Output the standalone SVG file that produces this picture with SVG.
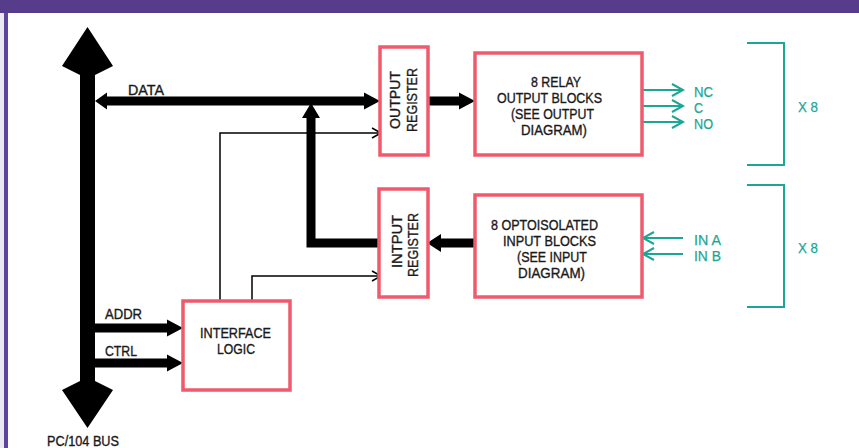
<svg xmlns="http://www.w3.org/2000/svg" width="859" height="448" viewBox="0 0 859 448">
<style>
.t{font-family:"Liberation Sans",Arial,sans-serif;font-size:14px;fill:#1a1a1a;stroke:#1a1a1a;stroke-width:0.35}
.g{font-family:"Liberation Sans",Arial,sans-serif;font-size:15px;fill:#1ca696;stroke:#1ca696;stroke-width:0.25}
.box{fill:#fff;stroke:#ef5a6d;stroke-width:3.5}
.thick{stroke:#000;stroke-width:9;fill:none}
.thin{stroke:#000;stroke-width:1.5;fill:none}
.gl{stroke:#1ca696;stroke-width:2;fill:none}
</style>
<rect x="0" y="0" width="859" height="448" fill="#fff"/>
<rect x="0" y="0" width="859" height="13" fill="#573c8c"/>
<rect x="0" y="13" width="4" height="435" fill="#ece8f2"/>
<rect x="4" y="13" width="4" height="435" fill="#5d44a0"/>

<g id="connectors">
  <polygon points="87.5,27 113,66 95,75 95,381 113,390 87.5,428 62,390 80,381 80,75 62,66" fill="#000"/>
  <line class="thick" x1="104" y1="101" x2="367" y2="101"/>
  <polygon points="95,101 107,92.5 107,109.5" fill="#000"/>
  <polygon points="380,101 364,92.5 364,109.5" fill="#000"/>
  <polyline class="thick" points="380,243 311,243 311,114"/>
  <polygon points="311,103 302,118 320,118" fill="#000"/>
  <line class="thick" x1="428" y1="101" x2="462" y2="101"/>
  <polygon points="475,101 459,92.5 459,109.5" fill="#000"/>
  <line class="thick" x1="475" y1="243" x2="438" y2="243"/>
  <polygon points="427,243 441,234 441,252" fill="#000"/>
  <line class="thick" x1="95" y1="328" x2="169" y2="328"/>
  <polygon points="183,328 167,319.5 167,336.5" fill="#000"/>
  <line class="thick" x1="95" y1="363" x2="169" y2="363"/>
  <polygon points="183,363 167,354.5 167,371.5" fill="#000"/>
  <polyline class="thin" points="220,301 220,133 380,133"/>
  <polyline class="thin" points="372,128 381,133 372,138"/>
  <polyline class="thin" points="252,301 252,276 380,276"/>
  <polyline class="thin" points="372,271 381,276 372,281"/>
  <line class="gl" x1="642" y1="90" x2="683" y2="90"/>
  <polyline class="gl" points="672,84 683,90 672,96"/>
  <line class="gl" x1="642" y1="106" x2="683" y2="106"/>
  <polyline class="gl" points="672,100 683,106 672,112"/>
  <line class="gl" x1="642" y1="122" x2="683" y2="122"/>
  <polyline class="gl" points="672,116 683,122 672,128"/>
  <line class="gl" x1="683" y1="238" x2="643" y2="238"/>
  <polyline class="gl" points="654,232 643,238 654,244"/>
  <line class="gl" x1="683" y1="254" x2="643" y2="254"/>
  <polyline class="gl" points="654,248 643,254 654,260"/>
  <polyline class="gl" points="747,43 784,43 784,165 747,165"/>
  <polyline class="gl" points="747,185 784,185 784,307 747,307"/>
</g>

<g id="labels">
  <text class="t" x="128" y="95" textLength="36" lengthAdjust="spacingAndGlyphs">DATA</text>
  <text class="t" x="105" y="319" textLength="37" lengthAdjust="spacingAndGlyphs">ADDR</text>
  <text class="t" x="105" y="356" textLength="32" lengthAdjust="spacingAndGlyphs">CTRL</text>
  <text class="t" x="47" y="446" textLength="72" lengthAdjust="spacingAndGlyphs">PC/104 BUS</text>
  <text class="g" x="694" y="97" textLength="19" lengthAdjust="spacingAndGlyphs">NC</text>
  <text class="g" x="694" y="113" textLength="9" lengthAdjust="spacingAndGlyphs">C</text>
  <text class="g" x="694" y="129" textLength="19" lengthAdjust="spacingAndGlyphs">NO</text>
  <text class="g" x="694" y="245" textLength="27" lengthAdjust="spacingAndGlyphs">IN A</text>
  <text class="g" x="694" y="261" textLength="27" lengthAdjust="spacingAndGlyphs">IN B</text>
  <text class="g" x="798" y="112" textLength="20" lengthAdjust="spacingAndGlyphs">X 8</text>
  <text class="g" x="798" y="253" textLength="20" lengthAdjust="spacingAndGlyphs">X 8</text>
</g>

<g id="output-register">
  <rect class="box" x="380" y="47" width="48" height="108"/>
  <text class="t" transform="translate(400,129) rotate(-90)" font-size="15.5" textLength="58" lengthAdjust="spacingAndGlyphs">OUTPUT</text>
  <text class="t" transform="translate(417,132) rotate(-90)" font-size="15.5" textLength="64" lengthAdjust="spacingAndGlyphs">REGISTER</text>
</g>

<g id="input-register">
  <rect class="box" x="379" y="189" width="49" height="108"/>
  <text class="t" transform="translate(402,268) rotate(-90)" font-size="15.5" textLength="53" lengthAdjust="spacingAndGlyphs">INTPUT</text>
  <text class="t" transform="translate(418,277) rotate(-90)" font-size="15.5" textLength="64" lengthAdjust="spacingAndGlyphs">REGISTER</text>
</g>

<g id="relay-blocks">
  <rect class="box" x="475" y="53" width="167" height="102"/>
  <text class="t" x="531" y="87" textLength="50" lengthAdjust="spacingAndGlyphs">8 RELAY</text>
  <text class="t" x="497" y="103" textLength="105" lengthAdjust="spacingAndGlyphs">OUTPUT BLOCKS</text>
  <text class="t" x="511" y="119" textLength="83" lengthAdjust="spacingAndGlyphs">(SEE OUTPUT</text>
  <text class="t" x="521" y="135" textLength="66" lengthAdjust="spacingAndGlyphs">DIAGRAM)</text>
</g>

<g id="opto-blocks">
  <rect class="box" x="475" y="195" width="167" height="102"/>
  <text class="t" x="491" y="230" textLength="107" lengthAdjust="spacingAndGlyphs">8 OPTOISOLATED</text>
  <text class="t" x="503" y="246" textLength="93" lengthAdjust="spacingAndGlyphs">INPUT BLOCKS</text>
  <text class="t" x="517" y="262" textLength="70" lengthAdjust="spacingAndGlyphs">(SEE INPUT</text>
  <text class="t" x="518" y="278" textLength="67" lengthAdjust="spacingAndGlyphs">DIAGRAM)</text>
</g>

<g id="interface-logic">
  <rect class="box" x="183" y="301" width="107" height="89"/>
  <text class="t" x="200" y="338" textLength="71" lengthAdjust="spacingAndGlyphs">INTERFACE</text>
  <text class="t" x="217" y="354" textLength="38" lengthAdjust="spacingAndGlyphs">LOGIC</text>
</g>
</svg>
